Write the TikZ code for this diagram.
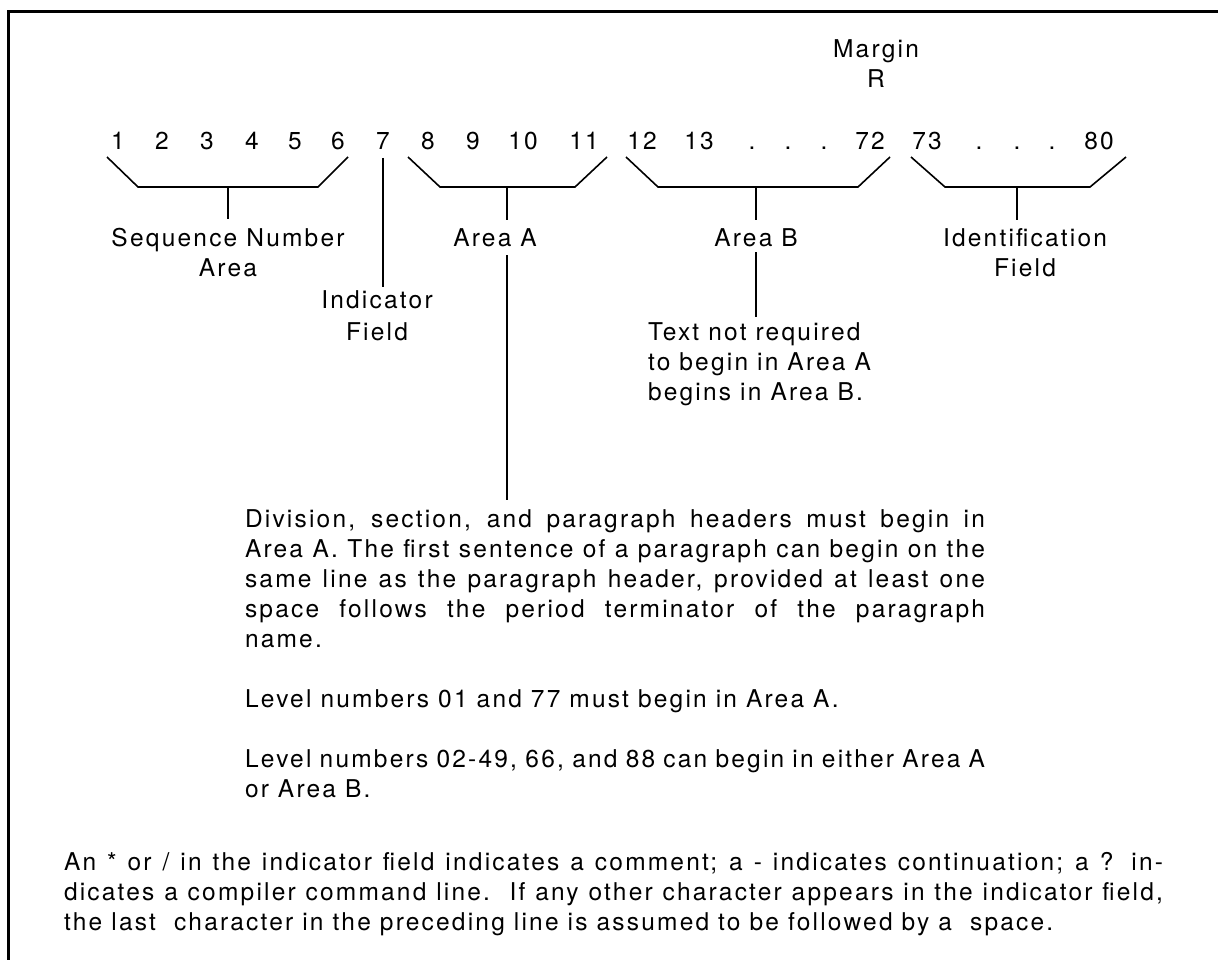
\documentclass[tikz,border=0pt]{standalone}
\usepackage{fontspec}
% Helvetica-like face with the loose tracking of the printed card layout
\newfontfamily\cardfont{TeX Gyre Heros}[LetterSpace=9.0]
% stacked lines whose reference point is the baseline of the first line
\newcommand\cstack[1]{\vtop{\halign{\hfil##\hfil\cr#1\crcr}}}
\newcommand\lstack[1]{\vtop{\halign{##\hfil\cr#1\crcr}}}
% a justified line of a given width
\newcommand\jline[2]{\hbox to #1{#2}}
\begin{document}
\begin{tikzpicture}[x=1pt,y=-1pt,
  txt/.style={inner sep=0pt, outer sep=0pt, font=\cardfont\fontsize{24.5}{30}\selectfont},
  num/.style={txt, anchor=base},
  lab/.style={txt, anchor=base},
  note/.style={txt, anchor=base west},
  bracket/.style={line width=1.6pt, line join=miter},
  stem/.style={line width=1.6pt},
  frame/.style={line width=3pt, line cap=rect}]
\useasboundingbox (0,0) rectangle (1218,960);
\fill[white] (0,0) rectangle (1218,960);
\draw[frame] (8,965) -- (8,12) -- (1225,12);

% margin marker
\node[lab] (margin) at (876,58) {\cstack{Margin\cr R}};

% column numbers
\foreach \n/\x in {1/118,2/162,3/207,4/252,5/295,6/338,7/383,8/428,9/473,
                   10/523,11/584,12/642,13/699,72/870,73/927,80/1099}
  \node[num] (c\n) at (\x,150) {\n};
\foreach \k/\x in {1/752,2/788,3/824,4/979,5/1017,6/1052}
  \node[num] (dot\k) at (\x,150) {.};

% brackets grouping the columns
\draw[bracket] (107,157) -- (138,187) -- (318,187) -- (348,157);
\draw[bracket] (408,157) -- (440,187) -- (575,187) -- (607,157);
\draw[bracket] (626,157) -- (658,187) -- (858,187) -- (890,157);
\draw[bracket] (911,157) -- (945,187) -- (1090,187) -- (1126,157);
\coordinate (bseq) at (228,187);
\coordinate (barA) at (507,187);
\coordinate (barB) at (756,187);
\coordinate (bid)  at (1017,187);

% field labels
\node[lab] (seq)   at (228,247)  {\cstack{Sequence Number\cr Area}};
\node[lab] (ind)   at (377,308)  {\cstack{Indicator\cr\noalign{\kern2pt} Field}};
\node[lab] (areaA) at (495,247)  {Area A};
\node[lab] (areaB) at (756,247)  {Area B};
\node[lab] (ident) at (1025,247) {\cstack{Identification\cr Field}};

\node[note] (textB) at (648,340)
  {\lstack{Text not required\cr to begin in Area A\cr begins in Area B.}};

\node[note] (rulesA) at (245,527) {\vtop{%
  \jline{740pt}{Division, section, and paragraph headers must begin in}
  \jline{740pt}{Area A. The first sentence of a paragraph can begin on the}
  \jline{740pt}{same line as the paragraph header, provided at least one}
  \jline{740pt}{space follows the period terminator of the paragraph}
  \hbox{name.}\vskip30pt
  \hbox{Level numbers 01 and 77 must begin in Area A.}\vskip30pt
  \jline{740pt}{Level numbers 02-49, 66, and 88 can begin in either Area A}
  \hbox{or Area B.}}};

\node[note] (indnote) at (64,870) {\vtop{%
  \jline{1099pt}{An * or / in the indicator field indicates a comment; a - indicates continuation; a ? in-}
  \jline{1099pt}{dicates a compiler command line.\ \ If any other character appears in the indicator field,}
  \hbox{the last\ \ character in the preceding line is assumed to be followed by a\ \ space.}}};

% leaders from the brackets to their labels
\draw[stem, shorten >=9.5pt] (bseq) -- (bseq |- seq.north);
\draw[stem, shorten >=9.5pt] (barA) -- (barA |- areaA.north);
\draw[stem, shorten >=9.5pt] (barB) -- (barB |- areaB.north);
\draw[stem, shorten >=9.5pt] (bid)  -- (bid |- ident.north);
\draw[stem, shorten <=8pt, shorten >=3.5pt] (c7.base) -- (c7.base |- ind.north);
\draw[stem, shorten <=8pt, shorten >=9.5pt] (barA |- areaA.base) -- (barA |- rulesA.north);
\draw[stem, shorten <=5pt, shorten >=5.5pt] (barB |- areaB.base) -- (barB |- textB.north);
\end{tikzpicture}
\end{document}
